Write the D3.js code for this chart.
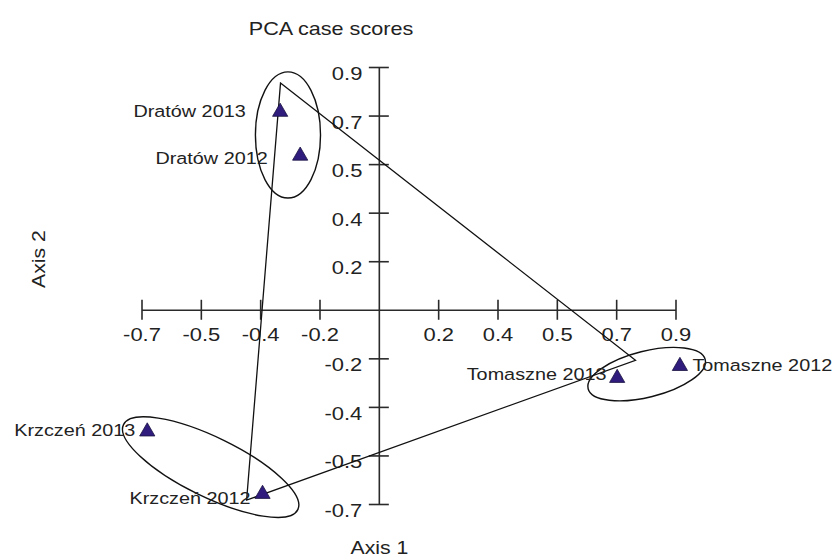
<!DOCTYPE html>
<html>
<head>
<meta charset="utf-8">
<script src="https://cdnjs.cloudflare.com/ajax/libs/d3/7.8.5/d3.min.js"></script>
<style>
    body { margin: 0; background: #ffffff; }
    svg text { font-family: "Liberation Sans", Arial, sans-serif; fill: #222; }
</style>
</head>
<body>
<svg id="chart" width="833" height="559"></svg>
<script>
//case names and their PCA scores
let caseNames = ["Dratów 2013", "Dratów 2012", "Krzczeń 2013", "Krzczeń 2012", "Tomaszne 2013", "Tomaszne 2012"];
let axis1Scores = [-0.291, -0.232, -0.683, -0.343, 0.703, 0.888];
let axis2Scores = [0.713, 0.555, -0.439, -0.664, -0.246, -0.203];

//the connecting outline (closed)
let outlineX = [-0.290, 0.757, -0.390];
let outlineY = [0.817, -0.182, -0.686];

//group ellipses: centre, semi axes (in axis 1 units), tilt in degrees
let groupNames = ["Dratów", "Krzczeń", "Tomaszne"];
let groupCx = [-0.268, -0.496, 0.790];
let groupCy = [0.630, -0.567, -0.232];
let groupA = [0.096, 0.286, 0.178];
let groupB = [0.186, 0.088, 0.068];
let groupTilt = [0, 26, -14];

//ticks (labels are rounded, as in the original)
let tickValues = [-0.7, -0.525, -0.35, -0.175, 0.175, 0.35, 0.525, 0.7, 0.875];
let tickLabels = ["-0.7", "-0.5", "-0.4", "-0.2", "0.2", "0.4", "0.5", "0.7", "0.9"];

let svg = d3.select("#chart");
let stretch = 1.2; //text in the picture is drawn wide

let x = d3.scaleLinear().domain([-0.7, 0.875]).range([141.5, 675.5]);
let y = d3.scaleLinear().domain([-0.7, 0.875]).range([504, 67]);

//title
svg.append("text")
    .attr("transform", "translate(331,35) scale(" + stretch + ",1)")
    .attr("text-anchor", "middle")
    .style("font-size", "18px")
    .text("PCA case scores");

//x axis through the origin
let xAxis = d3.axisBottom(x)
    .tickValues(tickValues)
    .tickFormat(function (d, i) { return tickLabels[i]; })
    .tickSize(10)
    .tickSizeOuter(0);

let xG = svg.append("g")
    .attr("transform", "translate(0," + y(0) + ")")
    .call(xAxis);
xG.select(".domain").attr("stroke", "#2a2a2a").attr("stroke-width", 1.6);
xG.selectAll(".tick line").attr("y1", -10).attr("stroke", "#2a2a2a").attr("stroke-width", 1.6);
xG.selectAll(".tick text")
    .attr("y", null)
    .attr("dy", null)
    .attr("transform", "translate(0,31) scale(1.22,1)")
    .style("font-size", "18px")
    .style("font-family", null)
    .attr("fill", null);

//y axis through the origin
let yAxis = d3.axisLeft(y)
    .tickValues(tickValues)
    .tickFormat(function (d, i) { return tickLabels[i]; })
    .tickSize(10)
    .tickSizeOuter(0);

let yG = svg.append("g")
    .attr("transform", "translate(" + x(0) + ",0)")
    .call(yAxis);
yG.select(".domain").attr("stroke", "#2a2a2a").attr("stroke-width", 1.6);
yG.selectAll(".tick line").attr("x1", 10).attr("stroke", "#2a2a2a").attr("stroke-width", 1.6);
yG.selectAll(".tick text")
    .attr("x", null)
    .attr("dy", null)
    .attr("transform", "translate(-16.5,12.5) scale(1.22,1)")
    .style("font-size", "18px")
    .style("font-family", null)
    .attr("fill", null);

xG.attr("font-family", null).attr("font-size", null);
yG.attr("font-family", null).attr("font-size", null);

//axis titles
svg.append("text")
    .attr("transform", "translate(379.5,554) scale(1.18,1)")
    .attr("text-anchor", "middle")
    .style("font-size", "18px")
    .text("Axis 1");

svg.append("text")
    .attr("transform", "translate(45,259) rotate(-90) scale(1.18,1)")
    .attr("text-anchor", "middle")
    .style("font-size", "18px")
    .text("Axis 2");

//ellipses
let unit = x(1) - x(0);
let ellipseG = svg.append("g").attr("id", "ellipsesG");
ellipseG.selectAll("ellipse")
    .data(groupNames)
    .enter()
    .append("ellipse")
    .attr("transform", function (d, i) {
        return "translate(" + x(groupCx[i]) + "," + y(groupCy[i]) + ") rotate(" + groupTilt[i] + ")";
    })
    .attr("rx", function (d, i) { return groupA[i] * unit; })
    .attr("ry", function (d, i) { return groupB[i] * unit; })
    .attr("fill", "none")
    .attr("stroke", "#111")
    .attr("stroke-width", 1.4);

//outline
let outline = outlineX.map(function (d, i) { return [x(d), y(outlineY[i])]; });
svg.append("path")
    .attr("d", d3.line()(outline) + "Z")
    .attr("fill", "none")
    .attr("stroke", "#111")
    .attr("stroke-width", 1.3);

//labels, placed beside each marker
let labelDx = [-34.5, -32.5, -12, -12, -10.7, 12.5];
let labelDy = [5, 8.5, 4, 10, 2, 5];
let labelsG = svg.append("g").attr("id", "labelsG");
labelsG.selectAll("text")
    .data(caseNames)
    .enter()
    .append("text")
    .attr("transform", function (d, i) {
        return "translate(" + (x(axis1Scores[i]) + labelDx[i]) + "," + (y(axis2Scores[i]) + labelDy[i]) + ") scale(" + stretch + ",1)";
    })
    .attr("text-anchor", function (d, i) { return labelDx[i] < 0 ? "end" : "start"; })
    .style("font-size", "16.5px")
    .text(function (d) { return d; });

//markers
let pointsG = svg.append("g").attr("id", "pointsG");
pointsG.selectAll("path")
    .data(caseNames)
    .enter()
    .append("path")
    .attr("d", d3.symbol().type(d3.symbolTriangle).size(100))
    .attr("transform", function (d, i) {
        return "translate(" + x(axis1Scores[i]) + "," + y(axis2Scores[i]) + ")";
    })
    .attr("fill", "#2f1c7c")
    .attr("stroke", "#1a1440")
    .attr("stroke-width", 0.8);
</script>
</body>
</html>
